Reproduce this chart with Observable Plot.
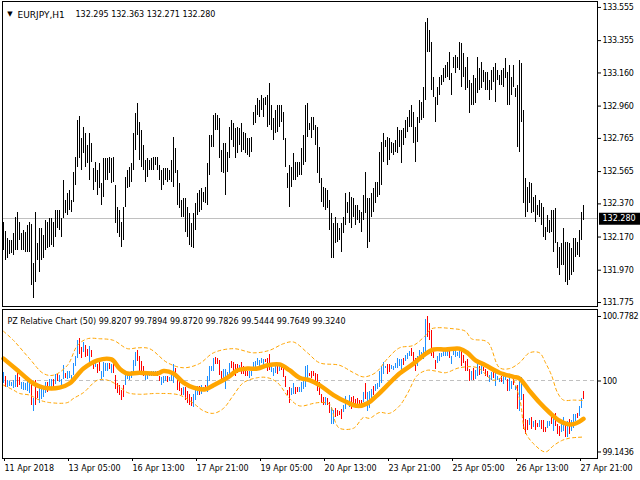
<!DOCTYPE html>
<html><head><meta charset="utf-8">
<script src="https://cdn.jsdelivr.net/npm/d3@7"></script>
<script src="https://cdn.jsdelivr.net/npm/@observablehq/plot@0.6"></script>
<style>
html,body{margin:0;padding:0;background:#fff;}
#chart{width:640px;height:480px;overflow:hidden;background:#fff;}
#chart svg{display:block;}
</style></head><body><div id="chart"></div>
<script>
// ---- EURJPY H1 bars (11 Apr 21:00 .. 27 Apr 23:00), index = bar number ----
const high = [
132.258,132.203,132.161,132.149,132.149,132.191,132.288,132.318,132.258,132.191,
132.209,132.197,132.240,132.258,132.246,132.010,132.318,132.131,132.221,132.221,
132.179,132.270,132.258,132.282,132.282,132.258,132.330,132.330,132.330,132.282,
132.511,132.390,132.433,132.451,132.390,132.559,132.650,132.873,132.897,132.764,
132.831,132.795,132.722,132.795,132.734,132.583,132.620,132.571,132.614,132.493,
132.644,132.644,132.644,132.650,132.644,132.650,132.481,132.348,132.330,132.258,
132.348,132.529,132.571,132.589,132.614,132.795,132.915,132.976,132.861,132.813,
132.722,132.632,132.644,132.632,132.644,132.650,132.650,132.650,132.602,132.571,
132.583,132.583,132.583,132.571,132.632,132.770,132.704,132.571,132.493,132.390,
132.402,132.402,132.348,132.312,132.252,132.312,132.372,132.433,132.451,132.463,
132.439,132.469,132.614,132.783,132.783,132.903,132.915,132.903,132.885,132.692,
132.734,132.734,132.680,132.831,132.873,132.855,132.825,132.831,132.825,132.855,
132.801,132.795,132.764,132.764,132.770,132.921,132.964,133.006,132.994,133.024,
133.006,133.012,133.024,133.096,132.964,132.885,132.933,132.964,132.964,132.964,
132.921,132.764,132.553,132.602,132.589,132.674,132.620,132.620,132.620,132.704,
132.783,132.964,132.976,132.855,132.891,132.891,132.843,132.831,132.710,132.523,
132.469,132.463,132.451,132.390,132.312,132.252,132.288,132.252,132.221,132.252,
132.288,132.433,132.378,132.439,132.408,132.402,132.360,132.360,132.330,132.318,
132.420,132.559,132.402,132.402,132.433,132.463,132.499,132.499,132.680,132.740,
132.795,132.752,132.770,132.764,132.740,132.734,132.752,132.831,132.813,132.813,
132.825,132.873,132.891,132.933,132.964,132.921,132.831,132.891,132.994,132.982,
133.072,133.464,133.488,133.416,133.344,133.132,133.012,133.072,133.132,133.144,
133.187,133.205,133.223,133.283,133.157,133.253,133.265,133.253,133.344,133.338,
133.277,133.193,133.253,133.114,133.096,133.144,133.126,133.253,133.187,133.223,
133.175,133.163,133.163,133.114,133.175,133.193,133.217,133.175,133.144,133.175,
133.187,133.247,133.163,133.205,133.132,133.205,133.066,133.084,133.235,133.217,
132.933,132.523,132.469,132.499,132.493,132.408,132.420,132.360,132.390,132.372,
132.348,132.227,132.300,132.270,132.330,132.330,132.342,132.137,132.107,132.131,
132.221,132.137,132.137,132.131,132.101,132.161,132.161,132.137,132.209,132.318,
132.363];
const low = [
132.089,132.028,132.041,132.065,132.071,132.059,132.089,132.089,132.149,132.089,
132.089,132.077,132.077,132.077,131.878,131.799,131.896,132.028,131.956,132.028,
132.041,132.089,132.101,132.107,132.119,132.107,132.167,132.221,132.209,132.167,
132.282,132.312,132.300,132.330,132.318,132.378,132.481,132.589,132.644,132.571,
132.674,132.589,132.614,132.511,132.620,132.451,132.499,132.420,132.463,132.360,
132.408,132.511,132.511,132.553,132.493,132.499,132.252,132.191,132.167,132.107,
132.149,132.348,132.463,132.469,132.499,132.571,132.692,132.783,132.632,132.589,
132.571,132.499,132.529,132.571,132.571,132.571,132.602,132.571,132.511,132.451,
132.481,132.511,132.499,132.511,132.499,132.469,132.553,132.360,132.342,132.288,
132.288,132.197,132.167,132.119,132.107,132.101,132.209,132.300,132.318,132.330,
132.378,132.372,132.360,132.541,132.710,132.710,132.813,132.813,132.644,132.559,
132.553,132.420,132.559,132.644,132.752,132.710,132.644,132.674,132.722,132.680,
132.692,132.674,132.662,132.650,132.680,132.843,132.855,132.903,132.891,132.933,
132.891,132.964,132.831,132.843,132.813,132.752,132.795,132.801,132.831,132.861,
132.752,132.589,132.463,132.348,132.469,132.511,132.511,132.529,132.541,132.541,
132.602,132.620,132.770,132.813,132.764,132.813,132.722,132.553,132.493,132.378,
132.348,132.330,132.342,132.209,132.041,132.041,132.131,132.137,132.149,132.077,
132.191,132.240,132.312,132.252,132.221,132.288,132.240,132.270,132.252,132.197,
132.270,132.312,132.101,132.137,132.288,132.318,132.372,132.408,132.420,132.481,
132.620,132.710,132.602,132.632,132.674,132.662,132.680,132.674,132.710,132.614,
132.722,132.764,132.801,132.831,132.831,132.734,132.620,132.740,132.855,132.873,
132.885,132.994,133.283,133.283,133.054,133.012,132.861,132.964,133.024,133.084,
133.102,133.126,133.132,133.114,133.024,133.187,133.157,133.187,133.175,133.072,
133.132,133.054,133.066,132.915,132.964,132.964,132.976,133.036,133.054,133.066,
133.102,133.054,133.054,132.994,133.054,133.102,132.982,133.114,133.084,133.084,
133.072,133.126,132.964,132.964,133.024,133.072,133.012,132.710,132.680,132.861,
132.372,132.288,132.318,132.372,132.312,132.318,132.258,132.300,132.288,132.240,
132.167,132.149,132.197,132.191,132.197,132.077,132.131,131.980,131.938,131.998,
131.998,131.896,131.878,131.908,131.938,131.956,132.047,132.059,132.047,132.149,
132.271];
const lastBar = {open: 132.295, high: 132.363, low: 132.271, close: 132.280};
const symbolName = "EURJPY,H1";

// ---- PZ Relative Chart (50) ----
const relHigh = [
100.10,100.05,100.01,99.99,99.98,100.01,100.07,100.09,100.04,99.98,
99.98,99.97,99.99,99.99,99.97,99.79,100.01,99.87,99.93,99.93,
99.90,99.98,99.98,100.02,100.02,100.02,100.08,100.08,100.07,100.02,
100.19,100.09,100.12,100.12,100.07,100.21,100.30,100.49,100.51,100.41,
100.46,100.43,100.38,100.42,100.37,100.24,100.25,100.20,100.22,100.12,
100.22,100.21,100.21,100.21,100.20,100.20,100.07,99.97,99.95,99.89,
99.95,100.07,100.10,100.10,100.12,100.25,100.34,100.37,100.29,100.24,
100.18,100.11,100.11,100.10,100.11,100.11,100.11,100.11,100.06,100.04,
100.05,100.05,100.05,100.04,100.09,100.20,100.15,100.05,99.99,99.91,
99.92,99.92,99.87,99.84,99.80,99.84,99.88,99.93,99.93,99.94,
99.92,99.95,100.05,100.18,100.18,100.27,100.28,100.27,100.25,100.11,
100.14,100.14,100.10,100.21,100.24,100.22,100.20,100.20,100.19,100.22,
100.17,100.15,100.12,100.12,100.11,100.22,100.24,100.27,100.25,100.27,
100.26,100.26,100.27,100.32,100.21,100.15,100.19,100.21,100.21,100.21,
100.17,100.05,99.89,99.92,99.91,99.97,99.92,99.92,99.92,99.98,
100.04,100.18,100.19,100.09,100.12,100.12,100.09,100.08,99.98,99.84,
99.80,99.80,99.79,99.74,99.68,99.64,99.67,99.65,99.63,99.66,
99.70,99.81,99.77,99.82,99.80,99.81,99.78,99.79,99.77,99.77,
99.86,99.97,99.86,99.87,99.90,99.93,99.96,99.97,100.11,100.17,
100.22,100.18,100.20,100.20,100.19,100.18,100.21,100.27,100.26,100.26,
100.27,100.31,100.33,100.36,100.39,100.34,100.27,100.30,100.37,100.34,
100.40,100.74,100.778,100.69,100.61,100.36,100.25,100.29,100.33,100.33,
100.35,100.36,100.36,100.40,100.30,100.36,100.37,100.34,100.40,100.38,
100.31,100.23,100.26,100.14,100.11,100.15,100.13,100.23,100.17,100.20,
100.16,100.14,100.12,100.07,100.10,100.10,100.10,100.06,100.03,100.05,
100.05,100.09,100.02,100.05,99.99,100.04,99.93,99.94,100.05,100.04,
99.84,99.54,99.52,99.55,99.56,99.51,99.52,99.49,99.52,99.52,
99.52,99.44,99.51,99.51,99.57,99.58,99.61,99.47,99.45,99.48,
99.56,99.50,99.51,99.53,99.52,99.59,99.60,99.61,99.69,99.79,
99.872];
const relLow = [
99.97,99.92,99.92,99.93,99.93,99.91,99.92,99.92,99.95,99.90,
99.89,99.88,99.87,99.85,99.70,99.63,99.70,99.79,99.73,99.78,
99.80,99.85,99.86,99.88,99.90,99.91,99.96,99.99,99.98,99.94,
100.02,100.03,100.02,100.03,100.01,100.07,100.17,100.27,100.32,100.27,
100.34,100.28,100.30,100.20,100.28,100.14,100.16,100.09,100.11,100.02,
100.04,100.11,100.11,100.14,100.09,100.09,99.90,99.85,99.82,99.77,
99.80,99.94,100.02,100.01,100.03,100.08,100.17,100.23,100.11,100.07,
100.06,100.01,100.02,100.05,100.05,100.05,100.07,100.05,99.99,99.95,
99.97,99.99,99.98,99.99,99.99,99.97,100.03,99.89,99.87,99.83,
99.83,99.76,99.73,99.70,99.69,99.68,99.76,99.83,99.83,99.84,
99.88,99.87,99.86,99.99,100.12,100.12,100.20,100.20,100.07,100.01,
100.00,99.90,100.01,100.07,100.15,100.11,100.06,100.09,100.11,100.08,
100.08,100.06,100.05,100.03,100.05,100.16,100.16,100.19,100.17,100.21,
100.17,100.22,100.12,100.13,100.10,100.05,100.09,100.08,100.11,100.13,
100.04,99.92,99.82,99.73,99.82,99.84,99.84,99.86,99.86,99.86,
99.90,99.92,100.03,100.06,100.03,100.06,99.99,99.87,99.82,99.73,
99.71,99.70,99.71,99.61,99.48,99.48,99.56,99.57,99.58,99.53,
99.62,99.66,99.72,99.68,99.66,99.72,99.69,99.72,99.71,99.68,
99.74,99.78,99.63,99.67,99.79,99.82,99.87,99.90,99.92,99.97,
100.08,100.15,100.08,100.10,100.14,100.13,100.15,100.15,100.18,100.11,
100.19,100.23,100.26,100.29,100.29,100.20,100.11,100.18,100.26,100.26,
100.26,100.30,100.52,100.49,100.30,100.27,100.14,100.21,100.24,100.28,
100.29,100.30,100.30,100.27,100.20,100.31,100.28,100.29,100.27,100.18,
100.21,100.12,100.12,99.99,100.01,100.01,100.02,100.06,100.07,100.08,
100.11,100.06,100.04,99.98,100.01,100.03,99.93,100.01,99.98,99.98,
99.96,100.00,99.87,99.87,99.90,99.94,99.89,99.66,99.63,99.77,
99.41,99.36,99.40,99.46,99.42,99.44,99.40,99.44,99.44,99.42,
99.38,99.38,99.43,99.45,99.47,99.39,99.45,99.35,99.33,99.38,
99.39,99.32,99.32,99.36,99.39,99.43,99.51,99.55,99.57,99.67,
99.7826];
// bar direction: u = up (blue), d = down (red)
const relDirGroups = [
"uduuuuuddu","uuuududduu","uuduududuu","uduuuuuudd","uddudduddu",
"uuududdddd","duuuuuuddd","duuuuuuddu","uuduuudddd","udddduuudu",
"uduuuudddd","uuuuddddud","ddduuuuuuu","uddduuudud","dddduudduu",
"uuuddddddd","dudduudddd","uuuudddddd","uduuuduuuu","uudduuuuuu",
"duuuddduuu","uuddddduuu","uuuduuuuud","dddduduudu","ddduuduuud",
"uuduududuu","dddududdud","dduududddu","ududuuuduud"];
const maIdx = [0,7,15,20,28,33,40,47,54,58,62,68,77,80,85,90,95,101,105,112,117,122,127,132,138,143,148,153,158,165,172,177,182,187,192,198,205,210,215,221,228,232,236,241,248,255,258,263,268,273,278,282,285,288,290];
const maVal = [100.27,100.13,99.97,99.92,99.92,99.97,100.15,100.25,100.26,100.15,100.09,100.10,100.09,100.12,100.09,99.98,99.92,99.90,99.95,100.04,100.13,100.15,100.15,100.19,100.20,100.13,100.04,100.01,99.95,99.83,99.74,99.70,99.73,99.83,99.95,100.09,100.21,100.31,100.38,100.38,100.39,100.34,100.25,100.19,100.10,100.05,100.03,99.88,99.74,99.62,99.52,99.48,99.48,99.51,99.544];
const upIdx = [0,5,13,20,25,32,37,42,48,55,62,67,73,82,90,98,105,115,125,133,140,145,152,158,168,175,180,186,192,198,205,211,214,225,231,234,242,248,253,258,263,268,271,274,277,280,285,290];
const upVal = [100.60,100.49,100.27,100.09,100.07,100.19,100.43,100.51,100.51,100.49,100.39,100.40,100.39,100.22,100.16,100.21,100.34,100.39,100.34,100.37,100.45,100.47,100.34,100.22,100.19,100.10,100.05,100.10,100.27,100.40,100.43,100.55,100.63,100.63,100.60,100.51,100.47,100.16,100.15,100.22,100.34,100.34,100.22,100.07,99.86,99.77,99.77,99.765];
const loIdx = [0,5,8,13,18,23,32,35,40,47,52,57,62,68,77,88,95,100,105,110,115,120,127,132,137,143,148,155,158,163,166,168,175,180,183,188,193,198,202,207,212,216,221,228,237,245,253,258,261,266,271,275,279,283,287,290];
const loVal = [99.95,99.89,99.85,99.83,99.77,99.74,99.74,99.79,99.86,100.01,100.01,99.95,99.86,99.84,99.85,99.83,99.73,99.64,99.61,99.67,99.83,99.98,100.04,100.04,99.98,99.79,99.70,99.73,99.74,99.72,99.50,99.43,99.43,99.56,99.55,99.62,99.61,99.70,99.85,100.07,100.13,100.12,100.10,100.16,100.16,100.01,100.07,99.79,99.38,99.22,99.144,99.22,99.28,99.31,99.32,99.324];
const relTitle = "PZ Relative Chart (50)";
const relHeader = ["99.8207","99.7894","99.8720","99.7826","99.5444","99.7649","99.3240"];

// ---- axes ----
const priceTicks = [133.555,133.355,133.160,132.960,132.765,132.565,132.370,132.170,131.970,131.775];
const relTicks = [100.7782, 100, 99.1436];
const relTickLabels = ["100.7782", "100", "99.1436"];
const timeTickIdx = [0,32,64,96,128,160,192,224,256,288];
const timeTickLabels = ["11 Apr 2018","13 Apr 05:00","16 Apr 13:00","17 Apr 21:00","19 Apr 05:00","20 Apr 13:00","23 Apr 21:00","25 Apr 05:00","26 Apr 13:00","27 Apr 21:00"];

// ---- build ----
const FONT = "'DejaVu Sans', sans-serif";
const fmt3 = d3.format(".3f");
const BLUE = "#1e90ff", RED = "#ff0000", ORANGE = "#ffa500";
const bars = high.map((h, i) => ({i, h, l: low[i]}));
const dirs = relDirGroups.join("");
const rel = relHigh.map((h, i) => ({i, h, l: relLow[i], c: dirs[i] === "d" ? RED : BLUE}));
const ma = maIdx.map((i, k) => ({i, v: maVal[k]}));
const upper = upIdx.map((i, k) => ({i, v: upVal[k]}));
const lower = loIdx.map((i, k) => ({i, v: loVal[k]}));

const topPlot = Plot.plot({
  width: 640, height: 307,
  marginLeft: 2, marginRight: 43, marginTop: 1, marginBottom: 1,
  x: {domain: [-0.5, 297], axis: null, label: null},
  y: {domain: [131.751, 133.591], label: null},
  style: {fontFamily: FONT, fontSize: "8px", background: "#fff", color: "#000"},
  marks: [
    Plot.ruleY([lastBar.close], {stroke: "#c0c0c0", shapeRendering: "crispEdges"}),
    Plot.ruleX(bars, {x: "i", y1: "l", y2: "h", stroke: "#000", strokeWidth: 1, shapeRendering: "crispEdges"}),
    Plot.frame({stroke: "#000"}),
    Plot.axisY({ticks: priceTicks, anchor: "right", label: null, tickSize: 3, tickPadding: 2, tickFormat: fmt3}),
    Plot.ruleY([lastBar.close], {stroke: "#000", strokeWidth: 12, insetLeft: 597, insetRight: -43}),
    Plot.text([lastBar.close], {y: d => d, frameAnchor: "right", textAnchor: "start", dx: 5, fill: "#fff", text: d => fmt3(d)}),
    Plot.text(["\u25BC"], {frameAnchor: "top-left", dx: 7.5, dy: 10, fontSize: 7, textAnchor: "middle"}),
    Plot.text([symbolName], {frameAnchor: "top-left", dx: 15, dy: 10, textAnchor: "start", fontSize: 9}),
    Plot.text([[lastBar.open, lastBar.high, lastBar.low, lastBar.close].map(fmt3).join(" ")], {frameAnchor: "top-left", dx: 73, dy: 10, textAnchor: "start"})
  ]
});

const bottomPlot = Plot.plot({
  width: 640, height: 173,
  marginLeft: 2, marginRight: 43, marginTop: 2, marginBottom: 22,
  x: {domain: [-0.5, 297], label: null},
  y: {domain: [99.065, 100.8626], label: null},
  color: {type: "identity"},
  style: {fontFamily: FONT, fontSize: "8px", background: "#fff", color: "#000"},
  marks: [
    Plot.ruleY([100], {stroke: "#c0c0c0", strokeDasharray: "4,3", shapeRendering: "crispEdges"}),
    Plot.ruleX(rel, {x: "i", y1: "l", y2: "h", stroke: "c", strokeWidth: 1, shapeRendering: "crispEdges"}),
    Plot.line(upper, {x: "i", y: "v", stroke: ORANGE, strokeWidth: 1, strokeDasharray: "3,3", curve: "catmull-rom"}),
    Plot.line(lower, {x: "i", y: "v", stroke: ORANGE, strokeWidth: 1, strokeDasharray: "3,3", curve: "catmull-rom"}),
    Plot.line(ma, {x: "i", y: "v", stroke: ORANGE, strokeWidth: 4.5, curve: "catmull-rom"}),
    Plot.frame({stroke: "#000"}),
    Plot.axisY({ticks: relTicks, anchor: "right", label: null, tickSize: 3, tickPadding: 2, tickFormat: d => relTickLabels[relTicks.indexOf(d)]}),
    Plot.axisX({ticks: timeTickIdx, anchor: "bottom", label: null, tickSize: 3, tickPadding: 4, textAnchor: "start", dx: 1, tickFormat: d => timeTickLabels[timeTickIdx.indexOf(d)]}),
    Plot.text([relTitle + " " + relHeader.join(" ")], {frameAnchor: "top-left", dx: 5, dy: 9, textAnchor: "start"})
  ]
});

const chart = document.getElementById("chart");
chart.appendChild(topPlot);
chart.appendChild(bottomPlot);
// narrower glyph spacing on the price scales, like the terminal's font
d3.select(chart).selectAll('g[aria-label="y-axis tick label"] text').attr("letter-spacing", "-0.3");
</script>
</body></html>
